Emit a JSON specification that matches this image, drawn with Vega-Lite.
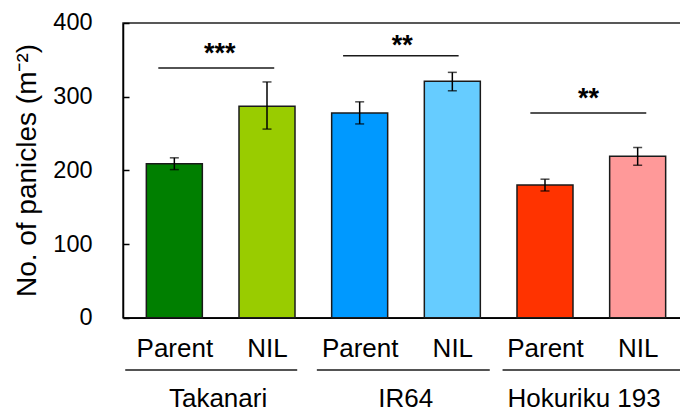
{
  "$schema": "https://vega.github.io/schema/vega-lite/v6.json",
  "autosize": "none",
  "padding": {"left": 123, "top": 23, "right": 0, "bottom": 97},
  "width": 566,
  "height": 294.7,
  "config": {
    "view": {"stroke": "#222", "strokeWidth": 1.5},
    "font": "Liberation Sans",
    "axis": {"grid": false}
  },
  "datasets": {
    "bars": [
      {"id": "Takanari Parent", "p": 1, "v": 209, "lo": 201, "hi": 217},
      {"id": "Takanari NIL", "p": 2, "v": 287, "lo": 256, "hi": 320},
      {"id": "IR64 Parent", "p": 3, "v": 278, "lo": 263, "hi": 293},
      {"id": "IR64 NIL", "p": 4, "v": 321, "lo": 308, "hi": 333},
      {"id": "Hokuriku 193 Parent", "p": 5, "v": 180, "lo": 172, "hi": 188},
      {"id": "Hokuriku 193 NIL", "p": 6, "v": 219, "lo": 207, "hi": 231}
    ],
    "lines": [
      {"p": 0.827, "p2": 2.078, "v": 339},
      {"p": 2.821, "p2": 4.068, "v": 355.6},
      {"p": 4.842, "p2": 6.093, "v": 278},
      {"p": 0.47, "p2": 2.326, "v": -71},
      {"p": 2.538, "p2": 4.404, "v": -71},
      {"p": 4.542, "p2": 6.5, "v": -71}
    ],
    "stars": [
      {"p": 1.49, "v": 347, "label": "***"},
      {"p": 3.46, "v": 358, "label": "**"},
      {"p": 5.47, "v": 286.4, "label": "**"}
    ],
    "groups": [
      {"p": 1.472, "v": -121, "label": "Takanari"},
      {"p": 3.497, "v": -121, "label": "IR64"},
      {"p": 5.422, "v": -121, "label": "Hokuriku 193"}
    ]
  },
  "layer": [
    {
      "data": {"name": "bars"},
      "mark": {"type": "bar", "width": 56, "stroke": "#1a1a1a", "strokeWidth": 1.5, "clip": false},
      "encoding": {
        "x": {
          "field": "p", "type": "quantitative",
          "scale": {"domain": [0.5, 6.5], "nice": false, "zero": false},
          "axis": {
            "values": [1, 2, 3, 4, 5, 6],
            "labelExpr": "datum.value % 2 == 1 ? 'Parent' : 'NIL'",
            "labelFontSize": 26, "labelColor": "black", "labelBaseline": "alphabetic",
            "labelPadding": 39, "ticks": false, "grid": false,
            "domainColor": "black", "domainWidth": 1.5, "title": null,
            "labelFlush": false, "labelOverlap": false
          }
        },
        "y": {
          "field": "v", "type": "quantitative",
          "scale": {"domain": [0, 400], "nice": false},
          "axis": {
            "values": [0, 100, 200, 300, 400],
            "labelFontSize": 23.5, "labelColor": "black",
            "tickSize": -6, "tickColor": "black", "tickWidth": 1.5,
            "labelPadding": 37, "grid": false,
            "domainColor": "black", "domainWidth": 1.5,
            "title": "No. of panicles (m⁻²)", "titleFontSize": 28, "titleFontWeight": "normal",
            "titleColor": "black", "titleX": -88, "titleY": 147, "titleAngle": -90,
            "titleBaseline": "alphabetic", "titleAlign": "center",
            "labelFlush": false
          }
        },
        "color": {
          "field": "id", "type": "nominal", "legend": null,
          "scale": {
            "domain": ["Takanari Parent", "Takanari NIL", "IR64 Parent", "IR64 NIL", "Hokuriku 193 Parent", "Hokuriku 193 NIL"],
            "range": ["#007F00", "#99CC00", "#0099FF", "#66CCFF", "#FF3300", "#FF9999"]
          }
        }
      }
    },
    {
      "data": {"name": "bars"},
      "mark": {"type": "rule", "color": "black", "strokeWidth": 1.5, "clip": false},
      "encoding": {
        "x": {"field": "p", "type": "quantitative"},
        "y": {"field": "lo", "type": "quantitative"},
        "y2": {"field": "hi"}
      }
    },
    {
      "data": {"name": "bars"},
      "mark": {"type": "tick", "orient": "horizontal", "color": "black", "thickness": 1.5, "size": 9, "clip": false},
      "encoding": {
        "x": {"field": "p", "type": "quantitative"},
        "y": {"field": "lo", "type": "quantitative"}
      }
    },
    {
      "data": {"name": "bars"},
      "mark": {"type": "tick", "orient": "horizontal", "color": "black", "thickness": 1.5, "size": 9, "clip": false},
      "encoding": {
        "x": {"field": "p", "type": "quantitative"},
        "y": {"field": "hi", "type": "quantitative"}
      }
    },
    {
      "data": {"name": "lines"},
      "mark": {"type": "rule", "color": "#1a1a1a", "strokeWidth": 1.5, "clip": false},
      "encoding": {
        "x": {"field": "p", "type": "quantitative"},
        "x2": {"field": "p2"},
        "y": {"field": "v", "type": "quantitative"}
      }
    },
    {
      "data": {"name": "stars"},
      "mark": {"type": "text", "fontSize": 27, "fontWeight": "bold", "color": "black", "baseline": "alphabetic", "align": "center", "clip": false},
      "encoding": {
        "x": {"field": "p", "type": "quantitative"},
        "y": {"field": "v", "type": "quantitative"},
        "text": {"field": "label"}
      }
    },
    {
      "data": {"name": "groups"},
      "mark": {"type": "text", "fontSize": 26, "color": "black", "baseline": "alphabetic", "align": "center", "clip": false},
      "encoding": {
        "x": {"field": "p", "type": "quantitative"},
        "y": {"field": "v", "type": "quantitative"},
        "text": {"field": "label"}
      }
    }
  ]
}
